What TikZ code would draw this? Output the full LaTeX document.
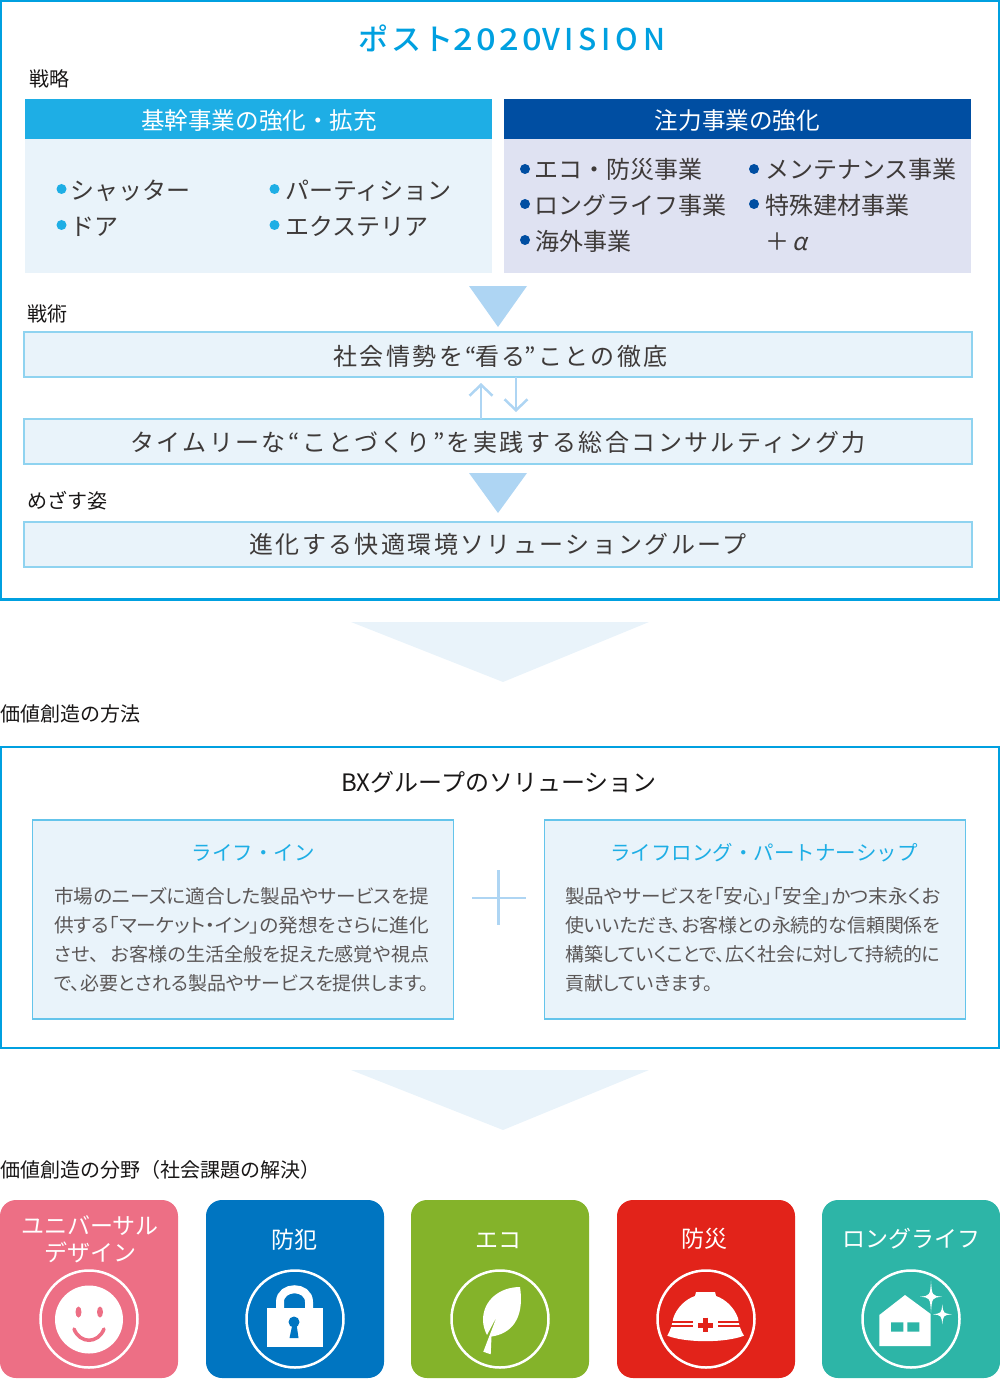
\documentclass[tikz,border=0pt]{standalone}
\usepackage{fontspec}
\usetikzlibrary{arrows.meta}
\setmainfont{Noto Sans CJK JP}
\newfontfamily\trackfont[LetterSpace=10]{Noto Sans CJK JP}
\newfontfamily\titlefont[LetterSpace=8]{Noto Sans CJK JP Medium}
\newfontfamily\digitfont[LetterSpace=11,FakeStretch=1.15]{Noto Sans CJK JP Medium}
\newfontfamily\latinfont[LetterSpace=16]{Noto Sans CJK JP Medium}
\newfontfamily\palfont[RawFeature=+palt]{Noto Sans CJK JP}
\newfontfamily\slantfont[FakeSlant=0.2]{Noto Sans CJK JP}
\definecolor{framecol}{HTML}{00A0E0}
\definecolor{skycol}{HTML}{1EAEE5}
\definecolor{navycol}{HTML}{004EA2}
\definecolor{palecol}{HTML}{E9F3FA}
\definecolor{lilaccol}{HTML}{DFE2F2}
\definecolor{edgecol}{HTML}{8FD3F0}
\definecolor{wedgecol}{HTML}{AED5F3}
\definecolor{inkcol}{HTML}{3E3A39}
\definecolor{pinkcol}{HTML}{ED6F85}
\definecolor{bluecol}{HTML}{0075C1}
\definecolor{greencol}{HTML}{84B32A}
\definecolor{redcol}{HTML}{E2231A}
\definecolor{tealcol}{HTML}{2DB5A7}
\newcommand{\fsz}[1]{\fontsize{#1}{#1}\selectfont}
\newcommand{\fitline}[1]{\resizebox{375pt}{\height}{#1}}
\newcommand{\sparkle}[4]{\fill[white] (#1,#2-#4) .. controls (#1+1,#2-1) .. (#1+#3,#2) .. controls (#1+1,#2+1) .. (#1,#2+#4) .. controls (#1-1,#2+1) .. (#1-#3,#2) .. controls (#1-1,#2-1) .. cycle;}
\tikzset{
    blockbox/.style={inner sep=0pt,outer sep=0pt},
    framebox/.style={blockbox,draw=framecol,line width=2.2pt},
    rowbox/.style={blockbox,draw=edgecol,line width=1.1pt,fill=palecol,minimum width=948pt,minimum height=45pt},
    solbox/.style={blockbox,draw=edgecol!70!framecol,line width=1.1pt,fill=palecol,minimum width=421.5pt,minimum height=199pt},
    headbox/.style={blockbox,minimum width=467pt,minimum height=40pt},
    bodybox/.style={blockbox,minimum width=467pt,minimum height=134pt},
    headtext/.style={inner sep=0pt,anchor=base,text=white,font=\fsz{23.6}},
    labeltext/.style={inner sep=0pt,anchor=base west,text=inkcol!40!black,font=\fsz{20}},
    itemtext/.style={inner sep=0pt,anchor=base west,text=inkcol,font=\fsz{24}},
    rowtext/.style={inner sep=0pt,anchor=base,text=inkcol,font=\trackfont\fsz{24}},
    soltitle/.style={inner sep=0pt,anchor=base,text=skycol,font=\fsz{20.5}},
    soltext/.style={inner sep=0pt,anchor=base west,align=left,text=inkcol!85!white,font=\palfont\fontsize{19}{28.7}\selectfont},
    tilebox/.style={blockbox,minimum size=178pt,rounded corners=16pt},
    tiletext/.style={inner sep=0pt,anchor=base,text=white,font=\fsz{23}},
    ringnode/.style={blockbox,circle,draw=white,line width=2.5pt,minimum size=97pt},
    flowarrow/.style={draw=wedgecol,line width=2.5pt,-{Straight Barb[length=11pt,width=23pt,line width=2.5pt]}}
}
\begin{document}
\begin{tikzpicture}[x=1pt,y=-1pt]
    \useasboundingbox (0,0) rectangle (1000,1380);
    % upper frame
    \node[framebox,minimum width=997.8pt,minimum height=598.8pt] (vision) at (500,300) {};
    \node[inner sep=0pt,anchor=base,text=framecol,font=\titlefont\fsz{30}] (visiontitle) at (512,51) {ポスト{\digitfont\fsz{30}2020}{\latinfont\fsz{30}VISION}};
    \node[labeltext] (senryaku) at (29,86.6) {戦略};
    \node[bodybox,fill=palecol] (corebody) at (258.5,206) {};
    \node[headbox,fill=skycol] (corehead) at (258.5,119) {};
    \node[bodybox,fill=lilaccol] (focusbody) at (737.5,206) {};
    \node[headbox,fill=navycol] (focushead) at (737.5,119) {};
    \node[headtext] (coretitle) at (259,130) {基幹事業の強化・拡充};
    \node[headtext] (focustitle) at (737.5,130) {注力事業の強化};
    \foreach \dx/\dy in {61.5/189,61.5/225,274.5/189,274.5/225}
        \fill[skycol] (\dx,\dy) circle (5);
    \foreach \dx/\dy in {525/169,525/204,525/240,754/169,754/204}
        \fill[navycol] (\dx,\dy) circle (5);
    \node[itemtext] (shutter) at (70,200) {シャッター};
    \node[itemtext] (door) at (70,236) {ドア};
    \node[itemtext] (partition) at (285,200) {パーティション};
    \node[itemtext] (exterior) at (285,236) {エクステリア};
    \node[itemtext] (eco) at (534,179) {エコ・防災事業};
    \node[itemtext] (longlife) at (534,215) {ロングライフ事業};
    \node[itemtext] (overseas) at (535,251) {海外事業};
    \node[itemtext] (maintenance) at (765,179) {メンテナンス事業};
    \node[itemtext] (material) at (765,215) {特殊建材事業};
    \node[itemtext] (plusalpha) at (765,250.5) {＋{\slantfont\kern3pt α}};
    \fill[wedgecol] (469,286) -- (527,286) -- (498,327) -- cycle;
    \node[labeltext] (senjutsu) at (27,321) {戦術};
    \node[rowbox] (watch) at (498,354.5) {};
    \node[rowtext] (watchtext) at (500.5,365) {社会情勢を“\kern-1.5pt 看る\kern-1.5pt ”ことの徹底};
    \node[rowbox] (consult) at (498,441.5) {};
    \node[rowtext] (consulttext) at (498,451) {タイムリーな“ことづくり”を実践する総合コンサルティング力};
    \coordinate (upfoot) at (481,419);
    \coordinate (uptip) at (481,383);
    \coordinate (downfoot) at (516,377);
    \coordinate (downtip) at (516,412);
    \draw[flowarrow] (upfoot) -- (uptip);
    \draw[flowarrow] (downfoot) -- (downtip);
    \fill[wedgecol] (469,473) -- (527,473) -- (498,513) -- cycle;
    \node[labeltext] (mezasu) at (27,508) {めざす姿};
    \node[rowbox] (goal) at (498,544.5) {};
    \node[rowtext] (goaltext) at (498,553) {進化する快適環境ソリューショングループ};
    \fill[palecol] (351,622) -- (649,622) -- (503,682) -- cycle;
    % middle frame
    \node[labeltext] (method) at (0,721) {価値創造の方法};
    \node[framebox,minimum width=997.8pt,minimum height=300.8pt] (bxframe) at (500,897.5) {};
    \node[inner sep=0pt,anchor=base,text=inkcol!40!black,font=\fsz{24}] (bxtitle) at (499,791) {BXグループのソリューション};
    \node[solbox] (lifein) at (243,919.5) {};
    \node[soltitle] (lifeintitle) at (253,860) {ライフ・イン};
    \node[soltext] (lifeintext) at (54,990) {\fitline{市場のニーズに適合した製品やサービスを提}\\\fitline{供する「マーケット・イン」の発想をさらに進化}\\\fitline{させ、\hspace{12pt}お客様の生活全般を捉えた感覚や視点}\\\fitline{で、必要とされる製品やサービスを提供します。}};
    \node[solbox] (partner) at (755,919.5) {};
    \node[soltitle] (partnertitle) at (764,860) {ライフロング・パートナーシップ};
    \node[soltext] (partnertext) at (565,990) {\fitline{製品やサービスを「安心」「安全」かつ末永くお}\\\fitline{使いいただき、お客様との永続的な信頼関係を}\\\fitline{構築していくことで、広く社会に対して持続的に}\\貢献していきます。};
    \coordinate (plusw) at (472,898);
    \coordinate (pluse) at (526,898);
    \coordinate (plusn) at (498.5,870);
    \coordinate (pluss) at (498.5,925);
    \draw[wedgecol,line width=2.5pt] (plusw) -- (pluse) (plusn) -- (pluss);
    \fill[palecol] (351,1070) -- (649,1070) -- (503,1130) -- cycle;
    % tiles
    \node[labeltext] (field) at (0,1177) {価値創造の分野（社会課題の解決）};
    \foreach \nm/\cx/\col in {ud/89/pinkcol,crime/295/bluecol,ecology/500/greencol,disaster/706/redcol,life/911/tealcol} {
        \node[tilebox,fill=\col] (tile\nm) at (\cx,1289) {};
        \node[ringnode] (ring\nm) at (\cx,1319) {};
    }
    \node[tiletext] (udone) at (90,1234) {ユニバーサル};
    \node[tiletext] (udtwo) at (90,1261) {デザイン};
    \node[tiletext] (crimetext) at (294,1248) {防犯};
    \node[tiletext] (ecotext) at (498.5,1248) {エコ};
    \node[tiletext] (disastertext) at (704.5,1247) {防災};
    \node[tiletext] (lifetext) at (911.5,1247) {ロングライフ};
    % smile
    \fill[white] (89,1319.5) circle (34);
    \fill[pinkcol] (78.5,1312) ellipse (3 and 5.5) (100,1312) ellipse (3 and 5.5);
    \draw[pinkcol,line width=3.5pt,line cap=round] (74,1329) .. controls (80,1344) and (98,1344) .. (104,1329);
    % lock
    \fill[white] (267,1308) rectangle (323,1347);
    \draw[white,line width=8pt] (280,1310) -- (280,1302) .. controls (280,1285) and (309,1285) .. (309,1302) -- (309,1310);
    \fill[bluecol] (294,1322) circle (5.5);
    \fill[bluecol] (292.5,1324) -- (296.5,1324) -- (298.5,1338) -- (289.5,1338) -- cycle;
    % leaf
    \fill[white] (520,1287) .. controls (500,1287) and (483,1300) .. (483,1320) .. controls (483,1326) and (485,1331) .. (487,1335) -- (497,1316) -- (483.3,1351.7) -- (490.7,1354.3) -- (491.5,1336.5) .. controls (510,1334) and (525,1320) .. (520,1287) -- cycle;
    % helmet
    \fill[white] (667.3,1335.7) .. controls (671,1329) and (672,1325) .. (673.3,1318) .. controls (677,1307) and (686,1299) .. (695,1296) -- (696,1292) -- (715,1292) -- (716,1296) .. controls (725,1299) and (734,1307) .. (738,1318) .. controls (739,1325) and (740,1329) .. (744,1335.7) .. controls (725,1343) and (686,1343) .. (667.3,1335.7) -- cycle;
    \draw[redcol,line width=1.6pt] (671,1321.7) -- (693.3,1321.7) (671,1325.7) -- (693.3,1325.7) (718.3,1321.7) -- (740.5,1321.7) (718.3,1325.7) -- (740.5,1325.7);
    \draw[redcol,line width=5pt] (698.3,1325) -- (713.3,1325) (705.8,1317.7) -- (705.8,1332.3);
    % house
    \fill[white] (879.3,1315) -- (905,1295) -- (930.7,1314) -- (930.7,1346) -- (879.3,1346) -- cycle;
    \fill[tealcol] (891,1322.3) rectangle (903.3,1331.7) (907.3,1322.3) rectangle (919.3,1331.7);
    \sparkle{931}{1296.7}{11}{16}
    \sparkle{942.3}{1314.3}{9.5}{10}
\end{tikzpicture}
\end{document}
